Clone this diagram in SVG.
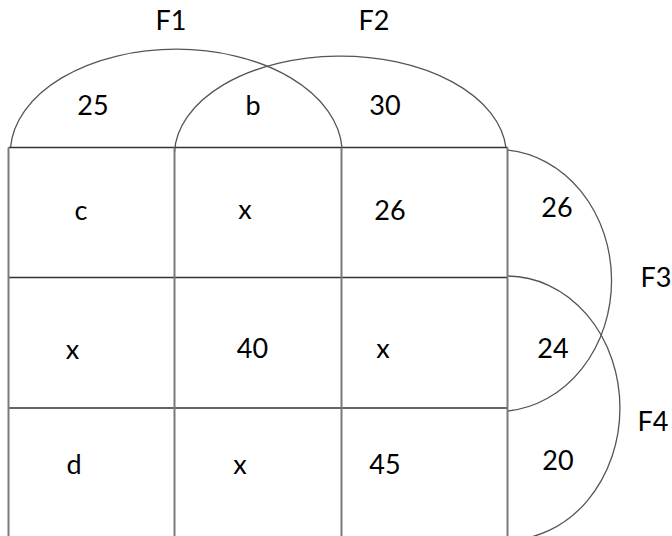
<svg xmlns="http://www.w3.org/2000/svg" width="672" height="536" viewBox="0 0 672 536">
  <style>
    .t { font-family: Lato, "Noto Sans", "Liberation Sans", sans-serif; font-size: 27px; fill: #000; text-anchor: middle; }
    .arc { fill: none; stroke: #555; stroke-width: 1.3; }
    .h { stroke: #333; stroke-width: 1.6; }
    .v { stroke: #7a7a7a; stroke-width: 2; }
  </style>
  <rect width="672" height="536" fill="#fff"/>
  <g id="arcs">
    <path id="arcF1" class="arc" d="M 10.5 147.5 A 166 104 0 0 1 342 147.5"/>
    <path id="arcF2" class="arc" d="M 174.5 152 A 166 99 0 0 1 506 148"/>
    <path id="arcF3" class="arc" d="M 507 150 A 114 131 0 0 1 508 411"/>
    <path id="arcF4" class="arc" d="M 507 276 A 113 132 0 0 1 507 540"/>
  </g>
  <g id="grid">
    <line class="h" x1="8.5" y1="147.5" x2="507.5" y2="147.5"/>
    <line class="h" x1="8.5" y1="277.5" x2="507.5" y2="277.5"/>
    <line class="h" x1="8.5" y1="408" x2="507.5" y2="408"/>
    <line class="v" x1="8.5" y1="147.5" x2="8.5" y2="536"/>
    <line class="v" x1="174.5" y1="147.5" x2="174.5" y2="536"/>
    <line class="v" x1="341.5" y1="147.5" x2="341.5" y2="536"/>
    <line class="v" x1="507.5" y1="147.5" x2="507.5" y2="536"/>
  </g>
  <g id="labels">
    <text class="t" x="171" y="30">F1</text>
    <text class="t" x="374" y="30">F2</text>
    <text class="t" x="656" y="287">F3</text>
    <text class="t" x="653" y="431">F4</text>
  </g>
  <g id="values">
    <text class="t" x="93" y="115">25</text>
    <text class="t" x="253" y="115">b</text>
    <text class="t" x="385" y="115">30</text>
    <text class="t" x="81" y="220">c</text>
    <text class="t" x="245" y="219">x</text>
    <text class="t" x="390" y="220">26</text>
    <text class="t" x="557" y="217">26</text>
    <text class="t" x="72.5" y="359">x</text>
    <text class="t" x="252.5" y="358">40</text>
    <text class="t" x="383" y="358">x</text>
    <text class="t" x="553" y="358">24</text>
    <text class="t" x="74" y="474">d</text>
    <text class="t" x="240" y="474">x</text>
    <text class="t" x="385" y="474">45</text>
    <text class="t" x="558" y="470">20</text>
  </g>
</svg>
